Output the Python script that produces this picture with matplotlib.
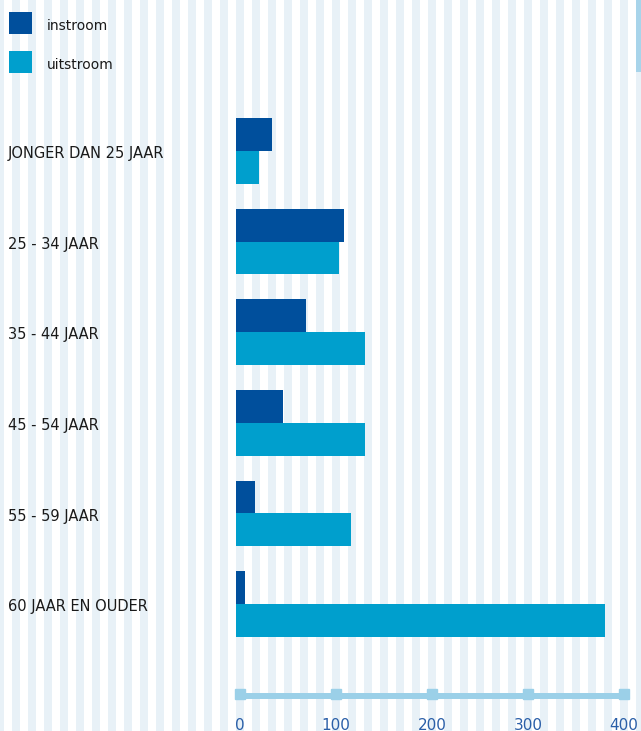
import matplotlib
matplotlib.use("Agg")
import matplotlib.pyplot as plt
import matplotlib.transforms as mtransforms
from matplotlib.patches import Rectangle
import numpy as np

# ---- data ----
categories = ["JONGER DAN 25 JAAR", "25 - 34 JAAR", "35 - 44 JAAR",
              "45 - 54 JAAR", "55 - 59 JAAR", "60 JAAR EN OUDER"]
series_names = ["instroom", "uitstroom"]
instroom = [38, 112, 73, 49, 20, 9]
uitstroom = [24, 107, 134, 134, 120, 384]
tick_values = [0, 100, 200, 300, 400]
tick_labels = ["0", "100", "200", "300", "400"]

DARK = "#004f9c"
LIGHT = "#009fcd"
STRIPE = "#e8f1f7"
AXIS = "#9bd0e8"
TICKTXT = "#2b5fa8"
series_colors = [DARK, LIGHT]

W, H = 641, 731
fig = plt.figure(figsize=(W / 100, H / 100), dpi=100)
fig.patch.set_facecolor("white")

# background stripes and legend (pixel coordinates)
bg = fig.add_axes([0, 0, 1, 1], zorder=0)
bg.set_xlim(0, W)
bg.set_ylim(H, 0)
bg.axis("off")
for x0 in np.arange(-4, W, 16):
    bg.add_patch(Rectangle((x0, 0), 8, H, color=STRIPE, lw=0))
bg.add_patch(Rectangle((636, 0), 5, 72, color="#a8d4ea", lw=0))

for k, (name, col) in enumerate(zip(series_names, series_colors)):
    top = 12 + 39 * k
    bg.add_patch(Rectangle((9, top), 23, 22, color=col, lw=0))
    bg.text(47, top + 14, name, ha="left", va="center", fontsize=10,
            color="#1a1a1a", family="DejaVu Sans")

# main axes: x pixel = 236 + 0.96*v ; y pixel = 151 + 90.6*i
ax = fig.add_axes([0, 0, 1, 1], zorder=1)
ax.patch.set_alpha(0)
ax.set_xlim(-236 / 0.96, (W - 236) / 0.96)
ax.set_ylim((H - 151) / 90.6, -151 / 90.6)
ax.axis("off")

idx = np.arange(len(categories))
bh = 0.362
ax.barh(idx - bh / 2, instroom, height=bh, color=DARK, lw=0)
ax.barh(idx + bh / 2, uitstroom, height=bh, color=LIGHT, lw=0)

# category labels
lab_tr = mtransforms.blended_transform_factory(fig.transFigure, ax.transData)
for i, c in enumerate(categories):
    ax.text(8 / W, i + 0.03, c, transform=lab_tr, ha="left", va="center",
            fontsize=10.5, color="#1a1a1a", family="DejaVu Sans")

# x axis line with square ticks
axis_y = (696 - 151) / 90.6
off = mtransforms.offset_copy(ax.transData, fig=fig, x=4, y=0, units="dots")
ax.plot([tick_values[0], tick_values[-1]], [axis_y, axis_y], color=AXIS,
        lw=4.3, solid_capstyle="butt", transform=off)
ax.plot(tick_values, [axis_y - 0.022] * len(tick_values), ls="none",
        marker="s", markersize=7, color=AXIS, transform=off)
label_y = (725 - 151) / 90.6
for v, t in zip(tick_values, tick_labels):
    ax.text(v, label_y, t, transform=off, ha="center", va="center",
            fontsize=11, color=TICKTXT, family="DejaVu Sans")

fig.savefig("out.png", dpi=100)
